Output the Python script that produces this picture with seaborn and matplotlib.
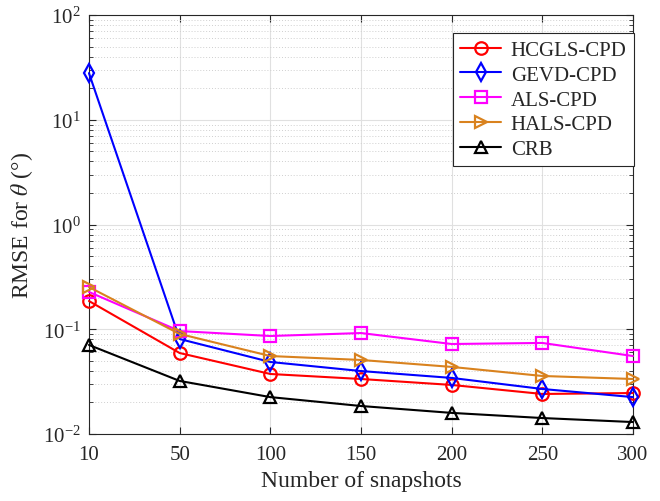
import numpy as np
import pandas as pd
import matplotlib
matplotlib.use("Agg")
import matplotlib.pyplot as plt
import seaborn as sns
from matplotlib.ticker import LogLocator, NullFormatter

# snapshot counts (drawn as evenly spaced categories)
snapshots = [10, 50, 100, 150, 200, 250, 300]

hcgls = [0.186, 0.0593, 0.0374, 0.0335, 0.0294, 0.0241, 0.0246]
gevd = [27.9, 0.0807, 0.0487, 0.0399, 0.0343, 0.0269, 0.0225]
als = [0.227, 0.0961, 0.0862, 0.092, 0.0723, 0.074, 0.0555]
hals = [0.253, 0.0902, 0.0555, 0.0509, 0.0437, 0.0358, 0.0335]
crb = [0.0708, 0.0321, 0.0225, 0.0185, 0.0159, 0.0142, 0.0130]

names = ["HCGLS-CPD", "GEVD-CPD", "ALS-CPD", "HALS-CPD", "CRB"]
series = [hcgls, gevd, als, hals, crb]
colors = ["#FF0000", "#0000FF", "#FF00FF", "#D9821E", "#000000"]
markers = ["o", "d", "s", ">", "^"]

sns.set_style("ticks")
plt.rcParams["font.family"] = ["Liberation Serif", "DejaVu Serif"]
plt.rcParams["mathtext.fontset"] = "stix"

fig = plt.figure(figsize=(6.6, 5.02), dpi=100)
ax = fig.add_axes([0.1348, 0.1335, 0.8242, 0.8345])

pos = np.arange(len(snapshots))
for name, vals, c, m in zip(names, series, colors, markers):
    df = pd.DataFrame({"x": pos, "y": vals})
    sns.lineplot(data=df, x="x", y="y", ax=ax, color=c, marker=m,
                 markersize=9, markerfacecolor="none", markeredgecolor=c,
                 markeredgewidth=1.6, linewidth=1.5, label=name, clip_on=False,
                 zorder=3)

ax.set_yscale("log")
ax.set_ylim(1e-2, 1e2)
ax.set_xlim(0, len(snapshots) - 1)
ax.set_xticks(pos)
ax.set_xticklabels([str(s) for s in snapshots])
ax.yaxis.set_major_locator(LogLocator(base=10, numticks=10))
ax.yaxis.set_minor_locator(LogLocator(base=10, subs=np.arange(2, 10), numticks=20))
ax.yaxis.set_minor_formatter(NullFormatter())

ax.grid(True, which="major", color="#E0E0E0", linewidth=0.8, linestyle="-")
ax.grid(True, which="minor", axis="y", color="#CFCFCF", linewidth=0.7, linestyle=(0, (1, 2)))
ax.set_axisbelow(True)

ax.tick_params(which="both", direction="in", top=True, right=True, colors="#262626",
               labelsize=15)
ax.tick_params(which="major", length=5)
ax.tick_params(which="minor", length=3)
ax.tick_params(axis="x", which="major", pad=8)
ax.tick_params(axis="y", which="major", pad=6)
for sp in ax.spines.values():
    sp.set_color("#262626")
    sp.set_linewidth(0.8)

ax.set_xlabel("Number of snapshots", fontsize=17, color="#262626", labelpad=4)
ax.set_ylabel(r"RMSE for $\theta$ (°)", fontsize=17, color="#262626", labelpad=6)

leg = ax.legend(loc="upper right", fontsize=15, frameon=True, fancybox=False,
                edgecolor="#262626", framealpha=1, handlelength=2.0,
                borderpad=0.35, labelspacing=0.25, handletextpad=0.45,
                borderaxespad=0, bbox_to_anchor=(1.002, 0.957))
leg.get_frame().set_linewidth(0.8)

fig.savefig("out.png", dpi=100)
